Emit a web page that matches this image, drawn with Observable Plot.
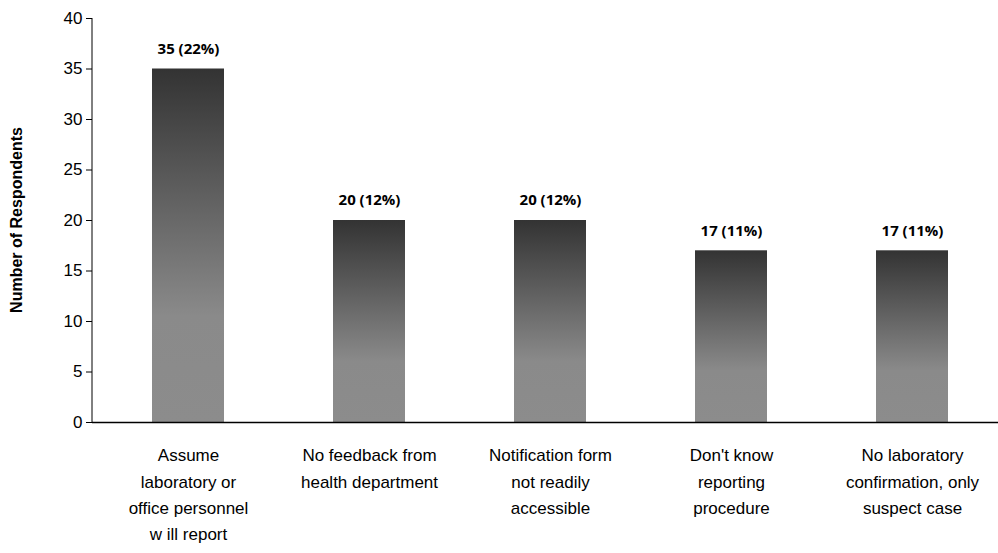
<!DOCTYPE html>
<html><head><meta charset="utf-8">
<script src="https://cdn.jsdelivr.net/npm/d3@7"></script>
<script src="https://cdn.jsdelivr.net/npm/@observablehq/plot@0.6"></script>
<style>body{margin:0;background:#fff}</style>
</head><body><div id="c"></div>
<script>
const categories = ["Assume\nlaboratory or\noffice personnel\nw ill report","No feedback from\nhealth department","Notification form\nnot readily\naccessible","Don't know\nreporting\nprocedure","No laboratory\nconfirmation, only\nsuspect case"];
const values = [35,20,20,17,17];
const labels = ["35 (22%)","20 (12%)","20 (12%)","17 (11%)","17 (11%)"];
const yTicks = [0,5,10,15,20,25,30,35,40];
const data = categories.map((c,i)=>({c,v:values[i],l:labels[i]}));
const narrow = "'Liberation Sans Narrow', 'Arial Narrow', 'Liberation Sans', sans-serif";

const chart = Plot.plot({
  width: 998, height: 553,
  marginTop: 18, marginBottom: 131, marginLeft: 92, marginRight: 0,
  style: {fontFamily: narrow, fontSize: "17px", color: "#000"},
  x: {domain: categories, range: [96.5, 1004], paddingInner: 0.6, paddingOuter: 0.3, axis: null},
  y: {domain: [0,40], ticks: yTicks, label: null},
  marks: [
    () => {
      const s = document.createElementNS("http://www.w3.org/2000/svg","defs");
      s.innerHTML = `<linearGradient id="g" x1="0" y1="0" x2="0" y2="1"><stop offset="0" stop-color="#333"/><stop offset="0.7" stop-color="#8a8a8a"/><stop offset="1" stop-color="#8c8c8c"/></linearGradient>`;
      return s;
    },
    Plot.barY(data, {x:"c", y:"v", fill:"url(#g)"}),
    Plot.text(data, {x:"c", y:"v", text:"l", dy:-20, fontWeight:"bold", fontSize:15, fontFamily:"Open Sans, sans-serif"}),
    Plot.text(data, {x:"c", y:0, text:"c", dy:20, lineAnchor:"top", lineHeight:1.55, fontSize:17}),
    Plot.axisY({ticks: yTicks, tickSize:6, tickPadding:4, fontSize:17, label:null}),
    Plot.ruleY([0], {stroke:"#000", strokeWidth:1.5})
  ]
});
const svg = d3.select(chart);
svg.append("line").attr("x1",92).attr("x2",92).attr("y1",18).attr("y2",422).attr("stroke","#000");
svg.append("text").attr("transform","translate(22,220) rotate(-90)").attr("text-anchor","middle")
  .attr("font-weight","bold").attr("font-size",16).attr("font-family","Liberation Sans, Arial, sans-serif").text("Number of Respondents");
document.getElementById("c").append(chart);
</script></body></html>
